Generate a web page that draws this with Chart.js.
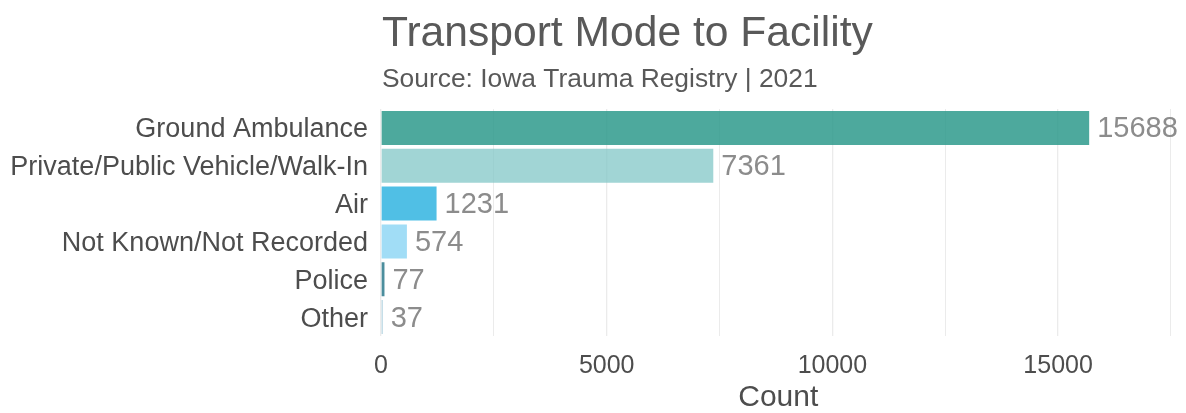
<!DOCTYPE html>
<html><head><meta charset="utf-8">
<script src="https://cdn.jsdelivr.net/npm/chart.js@4/dist/chart.umd.min.js"></script>
<style>html,body{margin:0;padding:0;background:#fff}#wrap{width:1186px;height:413px}</style>
</head><body><div id="wrap"><canvas id="c" width="1186" height="413"></canvas></div>
<script>
const categories = ["Ground Ambulance","Private/Public Vehicle/Walk-In","Air","Not Known/Not Recorded","Police","Other"];
const counts = [15688, 7361, 1231, 574, 77, 37];
const barColors = ["rgba(38,150,136,0.82)","rgba(130,199,199,0.75)","rgba(31,173,222,0.78)","rgba(130,210,243,0.75)","rgba(25,110,130,0.78)","rgba(140,190,210,0.75)"];
const xTicks = [0, 5000, 10000, 15000];
const xGrid = [0, 2500, 5000, 7500, 10000, 12500, 15000, 17500];
const titleText = "Transport Mode to Facility";
const subtitleText = "Source: Iowa Trauma Registry | 2021";
const xTitle = "Count";

const FONT = "'Liberation Sans', Arial, sans-serif";

const overlay = {
  id: 'overlay',
  afterDraw(chart) {
    const ctx = chart.ctx, a = chart.chartArea;
    ctx.save();
    ctx.textBaseline = 'alphabetic';
    ctx.textAlign = 'left';
    ctx.fillStyle = '#595959';
    ctx.font = '42.6px ' + FONT;
    ctx.fillText(titleText, a.left + 1, 46);
    ctx.font = '26.4px ' + FONT;
    ctx.fillText(subtitleText, a.left + 1, 87);
    // value labels
    const meta = chart.getDatasetMeta(0);
    ctx.font = '29px ' + FONT;
    ctx.fillStyle = '#8c8c8c';
    meta.data.forEach((bar, i) => {
      ctx.fillText(String(counts[i]), bar.x + 8, bar.y + 9.5);
    });
    ctx.restore();
  }
};

new Chart(document.getElementById('c'), {
  type: 'bar',
  data: { labels: categories, datasets: [{ data: counts, backgroundColor: barColors, borderWidth: 0, barPercentage: 0.9, categoryPercentage: 1.0 }] },
  options: {
    indexAxis: 'y',
    responsive: false,
    animation: false,
    layout: { padding: { top: 109, right: 5, bottom: 0, left: 0 } },
    plugins: { legend: { display: false }, tooltip: { enabled: false } },
    scales: {
      x: {
        min: 0, max: 17600,
        border: { display: false },
        afterBuildTicks: (s) => { s.ticks = xGrid.map(v => ({ value: v })); },
        afterFit: (s) => { s.height = 77; },
        grid: {
          drawTicks: false,
          color: '#ebebeb',
          lineWidth: (c) => (c.tick && c.tick.value % 5000 === 0) ? 1.3 : 1
        },
        ticks: {
          autoSkip: false, maxRotation: 0, minRotation: 0, padding: 15,
          color: '#4d4d4d', font: { family: FONT, size: 25 },
          callback: (v) => xTicks.includes(v) ? String(v) : ''
        },
        title: { display: true, text: xTitle, color: '#4d4d4d', font: { family: FONT, size: 30, lineHeight: 1 }, padding: { top: 0, bottom: 0 } }
      },
      y: {
        border: { display: false },
        grid: { display: false, drawTicks: false },
        ticks: { autoSkip: false, color: '#4d4d4d', font: { family: FONT, size: 27 }, padding: 13, labelOffset: 2 },
        afterFit: (s) => { s.width = 381; }
      }
    }
  },
  plugins: [overlay]
});
</script></body></html>
